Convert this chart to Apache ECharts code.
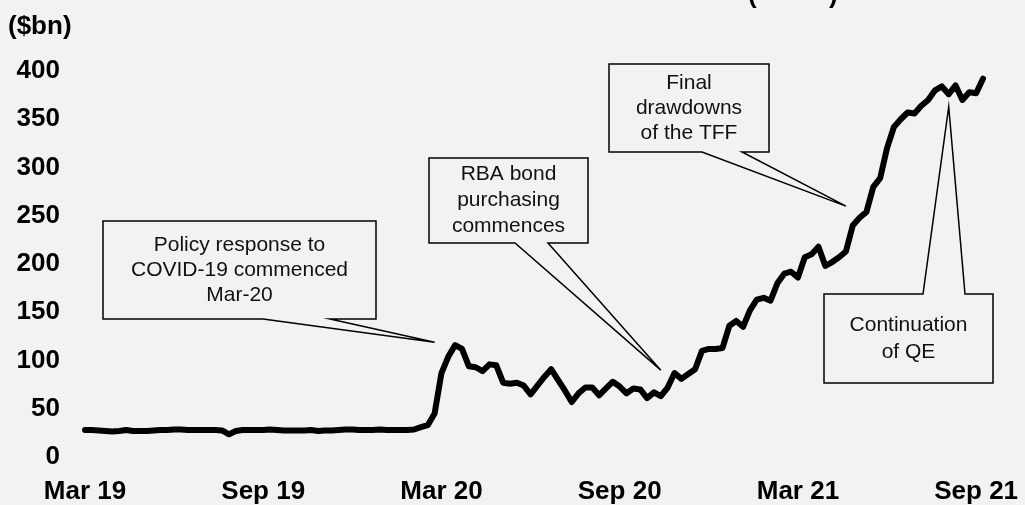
<!DOCTYPE html>
<html>
<head>
<meta charset="utf-8">
<script src="https://cdn.jsdelivr.net/npm/echarts@6/dist/echarts.min.js"></script>
<style>
  html, body { margin: 0; padding: 0; background: #f2f2f2; }
  #chart { width: 1025px; height: 505px; }
</style>
</head>
<body>
<div id="chart"></div>
<script>
// weekly observations, Mar 2019 - end Sep 2021 ($bn)
const weeklyValues = [
  28, 28, 27.5, 27, 26.5, 27, 28, 27, 27, 27,
  27.5, 28, 28, 28.5, 28.5, 28, 28, 28, 28, 28,
  27.5, 23.5, 27, 28, 28, 28, 28, 28.5, 28, 27.5,
  27.5, 27.5, 27.5, 28, 27, 27.5, 27.5, 28, 28.5, 28.5,
  28, 28, 28, 28.5, 28, 28, 28, 28, 28.5, 31,
  33, 45, 87, 104, 116, 112, 94, 93, 89, 96,
  95, 77, 76, 77, 74, 65, 74, 83, 91, 80,
  69, 57, 66, 72, 72, 64, 71, 78, 73, 66,
  71, 70, 61, 67, 63, 72, 87, 81, 86, 91,
  110, 112, 112, 113, 136, 141, 135, 152, 163, 165,
  162, 180, 190, 192, 186, 207, 210, 218, 198, 202,
  207, 213, 240, 248, 254, 280, 289, 320, 342, 350,
  357, 356, 364, 370, 380, 384, 376, 385, 370, 378,
  377, 392
];
const tickLabels = ['Mar 19', 'Sep 19', 'Mar 20', 'Sep 20', 'Mar 21', 'Sep 21'];
const weeksPerTick = 26;

const weeks = weeklyValues.map((v, i) => {
  const d = new Date(Date.UTC(2019, 2, 4) + i * 7 * 86400000);
  return d.toISOString().slice(0, 10);
});

// callouts: text, box [x, y, w, h], wedge base on box edge, anchor in data terms [week, value]
const callouts = [
  { text: 'Policy response to\nCOVID-19 commenced\nMar-20', box: [103, 221, 273, 98], edge: 'bottom', base: [263, 330], at: [51, 119], lh: 25 },
  { text: 'RBA bond\npurchasing\ncommences', box: [429, 158, 159, 85], edge: 'bottom', base: [515, 548], at: [84, 90], lh: 26 },
  { text: 'Final\ndrawdowns\nof the TFF', box: [609, 64, 160, 88], edge: 'bottom', base: [702, 742], at: [111, 260], lh: 25 },
  { text: 'Continuation\nof QE', box: [824, 294, 169, 89], edge: 'top', base: [923, 965], at: [126, 363], lh: 27 }
];

const font = "'Liberation Sans', Arial, sans-serif";
const chart = echarts.init(document.getElementById('chart'));

chart.setOption({
  backgroundColor: '#f2f2f2',
  animation: false,
  grid: { left: 85, right: 42, top: 71, bottom: 44 },
  xAxis: {
    type: 'category',
    data: weeks,
    boundaryGap: false,
    axisLine: { show: false },
    axisTick: { show: false },
    axisLabel: {
      interval: (i) => i % weeksPerTick === 0,
      formatter: (v, i) => tickLabels[Math.round(i / weeksPerTick)] || '',
      color: '#000',
      fontFamily: font,
      fontWeight: 'bold',
      fontSize: 26,
      margin: 22,
      hideOverlap: false
    },
    splitLine: { show: false }
  },
  yAxis: {
    type: 'value',
    min: 0,
    max: 400,
    interval: 50,
    axisLine: { show: false },
    axisTick: { show: false },
    splitLine: { show: false },
    axisLabel: {
      color: '#000',
      fontFamily: font,
      fontWeight: 'bold',
      fontSize: 26,
      margin: 25
    }
  },
  series: [{
    type: 'line',
    data: weeklyValues,
    showSymbol: false,
    lineStyle: { color: '#000', width: 6, join: 'round', cap: 'round' }
  }]
});

const graphics = [
  {
    type: 'text', left: 8, top: 14,
    style: { text: '($bn)', fill: '#000', font: 'bold 26px ' + font }
  },
  {
    type: 'text', left: 748, top: -17,
    style: { text: '(          )', fill: '#000', font: 'bold 26px ' + font }
  }
];

callouts.forEach(c => {
  const tip = chart.convertToPixel({ gridIndex: 0 }, c.at);
  const [x, y, w, h] = c.box;
  let pts;
  if (c.edge === 'bottom') {
    pts = [[x, y], [x + w, y], [x + w, y + h], [c.base[1], y + h], tip, [c.base[0], y + h], [x, y + h]];
  } else {
    pts = [[x, y], [c.base[0], y], tip, [c.base[1], y], [x + w, y], [x + w, y + h], [x, y + h]];
  }
  graphics.push({
    type: 'polygon', z: 10,
    shape: { points: pts },
    style: { fill: '#f2f2f2', stroke: '#000', lineWidth: 1.5 }
  });
  graphics.push({
    type: 'text', z: 11,
    x: x + w / 2, y: y + h / 2,
    style: {
      text: c.text, fill: '#111', font: '21px ' + font,
      align: 'center', verticalAlign: 'middle', lineHeight: c.lh
    }
  });
});

chart.setOption({ graphic: graphics });
</script>
</body>
</html>
